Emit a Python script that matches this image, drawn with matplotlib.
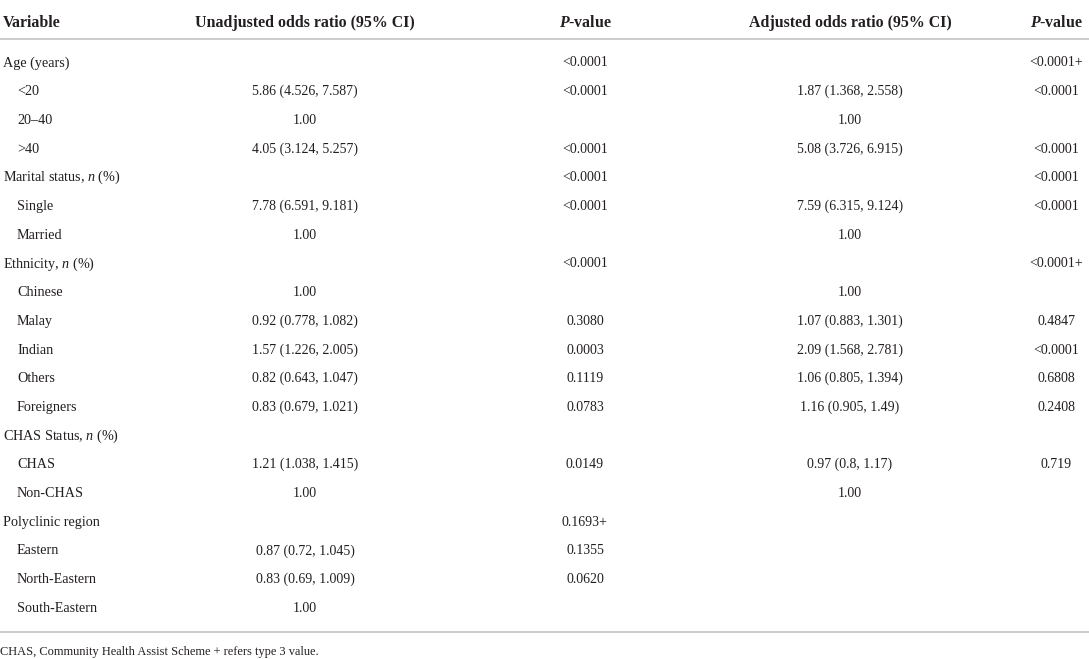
import matplotlib.pyplot as plt

plt.rcParams['font.family'] = ['Liberation Serif', 'DejaVu Serif']
plt.rcParams['mathtext.fontset'] = 'custom'
plt.rcParams['mathtext.rm'] = 'Liberation Serif'
plt.rcParams['mathtext.it'] = 'Liberation Serif:italic'
plt.rcParams['mathtext.bf'] = 'Liberation Serif:bold'
plt.rcParams['mathtext.bfit'] = 'Liberation Serif:italic:bold'

headers = ['Variable', 'Unadjusted odds ratio (95% CI)', r'$\mathbfit{P}$-value',
           'Adjusted odds ratio (95% CI)', r'$\mathbfit{P}$-value']

variables = ['Age (years)', '<20', '20–40', '>40',
             r'Marital status, $\it{n}$ (%)', 'Single', 'Married',
             r'Ethnicity, $\it{n}$ (%)', 'Chinese', 'Malay', 'Indian', 'Others', 'Foreigners',
             r'CHAS Status, $\it{n}$ (%)', 'CHAS', 'Non-CHAS',
             'Polyclinic region', 'Eastern', 'North-Eastern', 'South-Eastern']
is_sub = [0, 1, 1, 1, 0, 1, 1, 0, 1, 1, 1, 1, 1, 0, 1, 1, 0, 1, 1, 1]
unadjusted = ['', '5.86 (4.526, 7.587)', '1.00', '4.05 (3.124, 5.257)',
              '', '7.78 (6.591, 9.181)', '1.00',
              '', '1.00', '0.92 (0.778, 1.082)', '1.57 (1.226, 2.005)', '0.82 (0.643, 1.047)', '0.83 (0.679, 1.021)',
              '', '1.21 (1.038, 1.415)', '1.00',
              '', '0.87 (0.72, 1.045)', '0.83 (0.69, 1.009)', '1.00']
p_unadj = ['<0.0001', '<0.0001', '', '<0.0001',
           '<0.0001', '<0.0001', '',
           '<0.0001', '', '0.3080', '0.0003', '0.1119', '0.0783',
           '', '0.0149', '',
           '0.1693+', '0.1355', '0.0620', '']
adjusted = ['', '1.87 (1.368, 2.558)', '1.00', '5.08 (3.726, 6.915)',
            '', '7.59 (6.315, 9.124)', '1.00',
            '', '1.00', '1.07 (0.883, 1.301)', '2.09 (1.568, 2.781)', '1.06 (0.805, 1.394)', '1.16 (0.905, 1.49)',
            '', '0.97 (0.8, 1.17)', '1.00',
            '', '', '', '']
p_adj = ['<0.0001+', '<0.0001', '', '<0.0001',
         '<0.0001', '<0.0001', '',
         '<0.0001+', '', '0.4847', '<0.0001', '0.6808', '0.2408',
         '', '0.719', '',
         '', '', '', '']
footnote = 'CHAS, Community Health Assist Scheme + refers type 3 value.'

W, H = 1089, 659
fig = plt.figure(figsize=(W / 100, H / 100), dpi=100)
ax = fig.add_axes([0, 0, 1, 1])
ax.set_xlim(0, W)
ax.set_ylim(H, 0)
ax.axis('off')

txt = '#231f20'
col_x = [3, 305, 585, 850, 1056]
col_ha = ['left', 'center', 'center', 'center', 'center']

# header row
for x, ha, h in zip(col_x, col_ha, headers):
    ax.text(x, 27, h, ha=ha, va='baseline', fontsize=11.4, fontweight='bold', color=txt)

ax.axhline(39, color='#c4c4c4', lw=1.2)

# body rows, aligned on baseline
y0, dy = 66.5, 28.7
for i, name in enumerate(variables):
    y = y0 + i * dy
    ax.text(17 if is_sub[i] else 3, y, name, ha='left', va='baseline', fontsize=10.2, color=txt)
    for x, val in zip(col_x[1:], [unadjusted[i], p_unadj[i], adjusted[i], p_adj[i]]):
        if val:
            ax.text(x, y, val, ha='center', va='baseline', fontsize=10, color=txt)

ax.axhline(632, color='#c4c4c4', lw=1.2)
ax.text(0, 655, footnote, ha='left', va='baseline', fontsize=8.9, color=txt)

fig.savefig('out.png', dpi=100)
